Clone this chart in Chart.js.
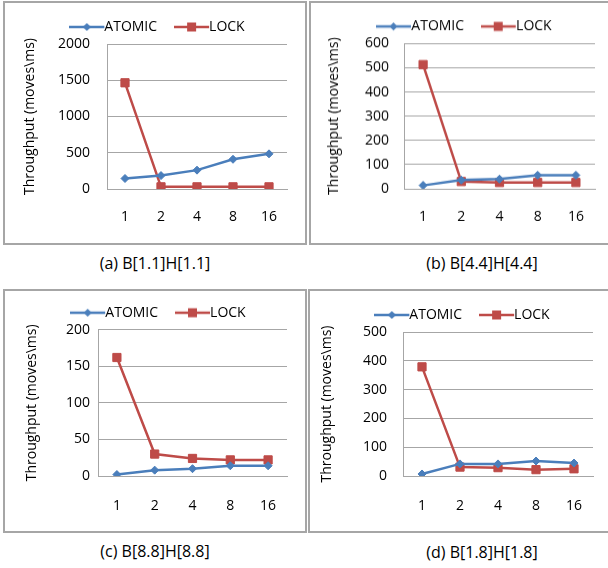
<!DOCTYPE html>
<html>
<head>
<meta charset="utf-8">
<script src="https://cdn.jsdelivr.net/npm/chart.js@4.4.0/dist/chart.umd.min.js"></script>
<style>
  body { margin: 0; width: 608px; height: 568px; background: #fff; position: relative; overflow: hidden; font-family: 'Open Sans', sans-serif; }
  .box { position: absolute; border: 2px solid #a6a6a6; box-sizing: border-box; }
  canvas { position: absolute; }
  .cap { position: absolute; font-size: 16px; color: #000; white-space: nowrap; transform: translate(-50%, -50%); }
</style>
</head>
<body>
<script>
// thread counts on the x axis
const threads = ['1', '2', '4', '8', '16'];
const seriesNames = ['ATOMIC', 'LOCK'];

// throughput per panel (moves/ms)
const atomicA = [145, 185, 260, 410, 485];
const lockA = [1465, 30, 30, 30, 30];
const atomicB = [14, 36, 40, 56, 56];
const lockB = [513, 30, 26, 26, 26];
const atomicC = [2, 8, 10, 14, 14];
const lockC = [162, 30, 24, 22, 22];
const atomicD = [7, 42, 42, 52, 45];
const lockD = [379, 31, 29, 22, 25];

const yMaxes = [2000, 600, 200, 500];
const ySteps = [500, 100, 50, 100];
const captions = ['(a) B[1.1]H[1.1]', '(b) B[4.4]H[4.4]', '(c) B[8.8]H[8.8]', '(d) B[1.8]H[1.8]'];

const atomicSets = [atomicA, atomicB, atomicC, atomicD];
const lockSets = [lockA, lockB, lockC, lockD];

// page geometry of each panel: box [left, top, width, height], plot [left, right, top, bottom]
const panels = [
  { box: [3, 1, 304, 244], plot: [107, 287, 60, 189], legendY: 27, legendX: 157, titleX: 30, tickGap: 17, xGap: 28, cap: [155, 263] },
  { box: [309, 1, 303, 244], plot: [404, 595, 60, 189], legendY: 26.7, legendX: 464, titleX: 334, tickGap: 15, xGap: 27.7, cap: [482, 263] },
  { box: [3, 289, 304, 244], plot: [98, 287, 348, 476], legendY: 312.3, legendX: 158, titleX: 32, tickGap: 8, xGap: 29.7, cap: [155, 551] },
  { box: [308, 289, 304, 244], plot: [403, 593, 348, 476], legendY: 315, legendX: 462, titleX: 327, tickGap: 16, xGap: 29.7, cap: [482, 552] }
];

const BLUE = '#4a7ebb';
const RED = '#be4b48';
const GRID = '#a6a6a6';
const FONT = { family: "'Open Sans', sans-serif", size: 14 };

// legend icon: a short line with the marker in its middle
function legendIcon(color, shape, bw, a) {
  const half = Math.max(bw / 2 - a, bw / 2 + 7);
  const c = document.createElement('canvas');
  c.width = Math.ceil(half * 2);
  c.height = 12;
  const ctx = c.getContext('2d');
  const x0 = a - bw / 2 + half;
  ctx.strokeStyle = color;
  ctx.fillStyle = color;
  ctx.lineWidth = 2.5;
  ctx.beginPath();
  ctx.moveTo(x0, 6);
  ctx.lineTo(x0 + 35, 6);
  ctx.stroke();
  const mx = x0 + 17.5;
  ctx.beginPath();
  if (shape === 'rectRot') {
    ctx.moveTo(mx - 4, 6); ctx.lineTo(mx, 2); ctx.lineTo(mx + 4, 6); ctx.lineTo(mx, 10);
  } else {
    ctx.rect(mx - 4.5, 1.5, 9, 9);
  }
  ctx.closePath();
  ctx.fill();
  return c;
}

panels.forEach((p, i) => {
  const [bx, by, bw0, bh] = p.box;
  const [pl, pr, pt, pb] = p.plot;

  const box = document.createElement('div');
  box.className = 'box';
  Object.assign(box.style, { left: bx + 'px', top: by + 'px', width: bw0 + 'px', height: bh + 'px' });
  document.body.appendChild(box);

  const cap = document.createElement('div');
  cap.className = 'cap';
  cap.textContent = captions[i];
  cap.style.left = p.cap[0] + 'px';
  cap.style.top = p.cap[1] + 'px';
  document.body.appendChild(cap);

  const pad = pt - p.legendY - 7;
  const a = 17 - pad;
  const boxW = 28 + a;
  const cy = p.legendY - pad - 7;
  const left = p.titleX - 8.4;
  const right = 2 * p.legendX - a - left;
  const cx = bx;
  const W = Math.ceil(right - cx);
  const H = by + bh - cy;

  const canvas = document.createElement('canvas');
  canvas.width = W;
  canvas.height = H;
  Object.assign(canvas.style, { left: cx + 'px', top: cy + 'px', width: W + 'px', height: H + 'px' });
  document.body.appendChild(canvas);

  const icons = [legendIcon(BLUE, 'rectRot', boxW, a), legendIcon(RED, 'rect', boxW, a)];

  new Chart(canvas, {
    type: 'line',
    data: {
      labels: threads,
      datasets: [{
        label: seriesNames[0],
        data: atomicSets[i],
        borderColor: BLUE,
        backgroundColor: BLUE,
        borderWidth: 2.5,
        pointStyle: 'rectRot',
        pointRadius: 4,
        pointBorderWidth: 1,
        tension: 0
      }, {
        label: seriesNames[1],
        data: lockSets[i],
        borderColor: RED,
        backgroundColor: RED,
        borderWidth: 2.5,
        pointStyle: 'rect',
        pointRadius: 5.8,
        pointBorderWidth: 1,
        tension: 0
      }]
    },
    options: {
      responsive: false,
      animation: false,
      events: [],
      layout: { padding: { left: left - cx, right: W - (right - cx), top: 0, bottom: 0 } },
      plugins: {
        tooltip: { enabled: false },
        legend: {
          position: 'top',
          labels: {
            color: '#000',
            font: FONT,
            padding: pad,
            usePointStyle: true,
            pointStyleWidth: boxW,
            generateLabels(chart) {
              const items = Chart.defaults.plugins.legend.labels.generateLabels(chart);
              items.forEach((it, k) => { it.pointStyle = icons[k]; });
              return items;
            }
          }
        }
      },
      scales: {
        x: {
          offset: true,
          grid: { display: false, drawTicks: false },
          border: { color: GRID, width: 1 },
          ticks: { color: '#000', font: FONT, padding: p.xGap - 8.4 },
          afterFit(s) { s.height = cy + H - pb; }
        },
        y: {
          min: 0,
          max: yMaxes[i],
          ticks: { stepSize: ySteps[i], color: '#000', font: FONT, padding: p.tickGap, callback: v => String(v) },
          grid: { color: GRID, drawTicks: false },
          border: { color: GRID, width: 1 },
          title: { display: true, text: 'Throughput (moves\\ms)', color: '#000', font: FONT, padding: 0 },
          afterFit(s) { s.width = pl - left; }
        },
        spacer: {
          type: 'linear',
          position: 'right',
          display: true,
          grid: { display: false, drawTicks: false },
          border: { display: false },
          ticks: { display: false },
          afterFit(s) { s.width = right - pr; }
        }
      }
    }
  });
});
</script>
</body>
</html>
